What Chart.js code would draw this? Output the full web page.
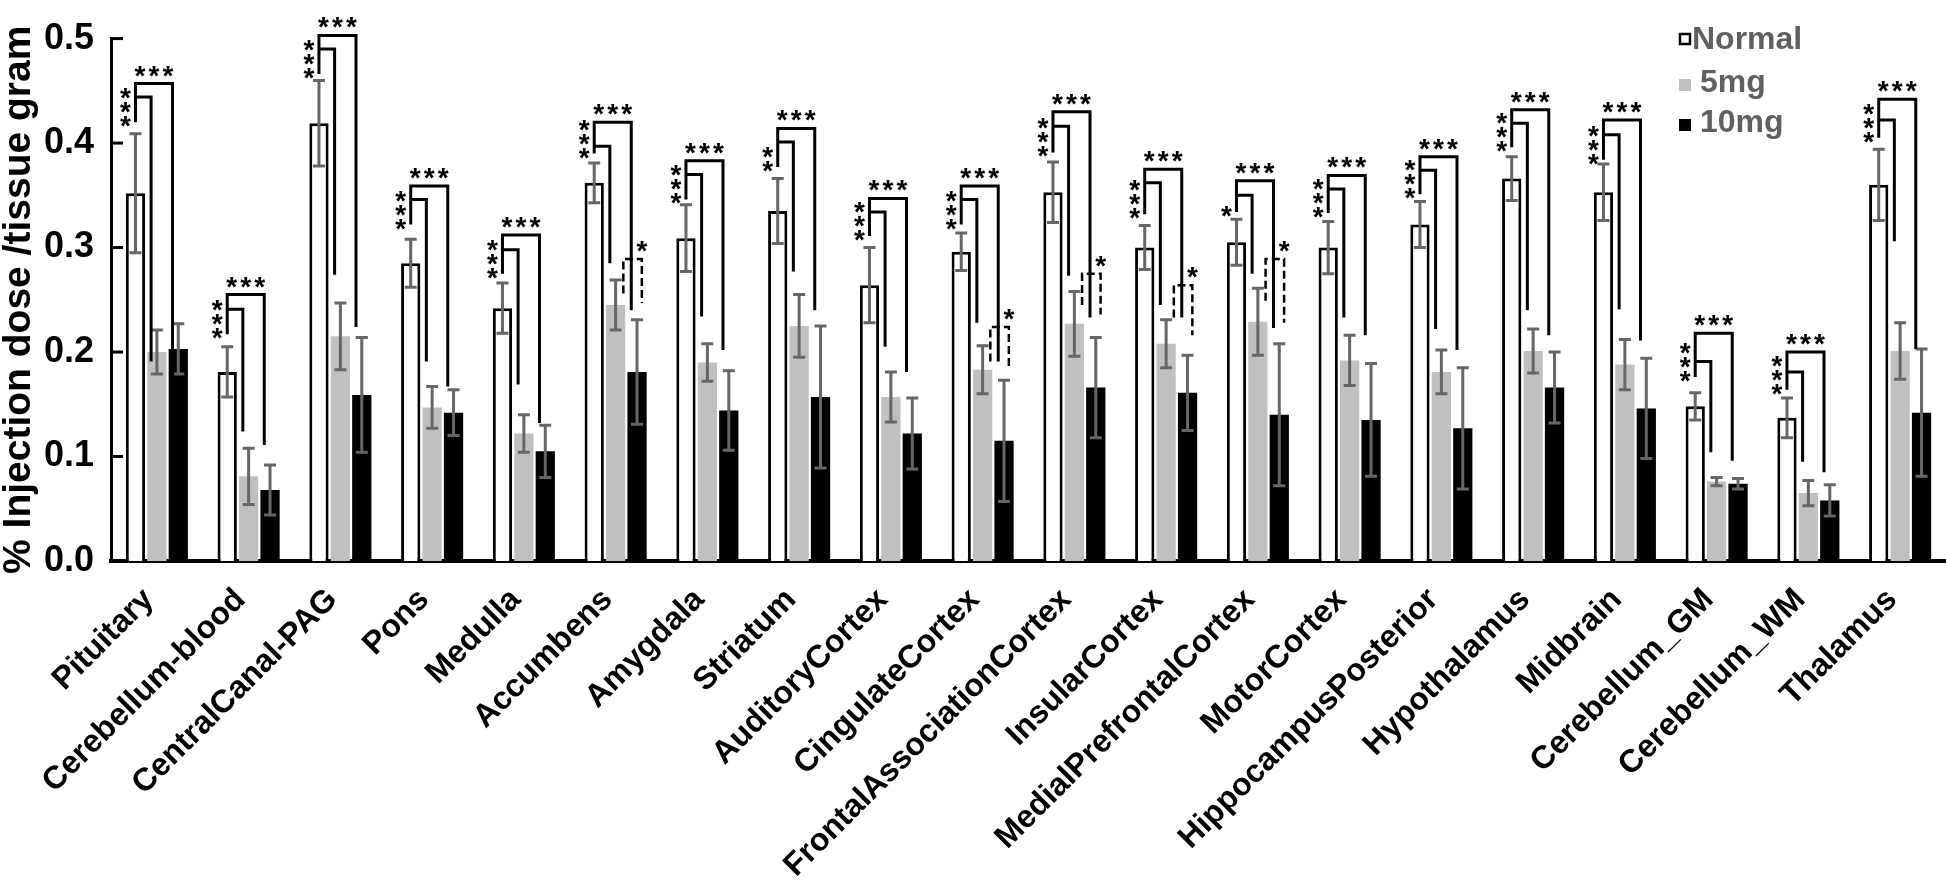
<!DOCTYPE html>
<html lang="en">
<head>
    <meta charset="UTF-8">
    <script src="https://cdn.jsdelivr.net/npm/chart.js"></script>
    <title>Injection dose by region</title>
    <style>
        body { margin: 0; background: #fff; }
    </style>
</head>
<body>
    <canvas id="myChart" width="1946" height="880"></canvas>
    <script>
        const categories = ['Pituitary', 'Cerebellum-blood', 'CentralCanal-PAG', 'Pons', 'Medulla', 'Accumbens',
            'Amygdala', 'Striatum', 'AuditoryCortex', 'CingulateCortex', 'FrontalAssociationCortex', 'InsularCortex',
            'MedialPrefrontalCortex', 'MotorCortex', 'HippocampusPosterior', 'Hypothalamus', 'Midbrain',
            'Cerebellum_GM', 'Cerebellum_WM', 'Thalamus']

        const normal    = [0.352, 0.181, 0.419, 0.285, 0.242, 0.362, 0.309, 0.335, 0.264, 0.296, 0.353, 0.300, 0.305, 0.300, 0.322, 0.366, 0.353, 0.148, 0.137, 0.360]
        const normalErr = [0.057, 0.024, 0.041, 0.023, 0.024, 0.019, 0.032, 0.031, 0.036, 0.018, 0.029, 0.021, 0.022, 0.025, 0.022, 0.021, 0.027, 0.013, 0.019, 0.034]
        const mg5       = [0.200, 0.081, 0.215, 0.147, 0.122, 0.245, 0.190, 0.225, 0.157, 0.183, 0.227, 0.208, 0.229, 0.192, 0.181, 0.201, 0.188, 0.076, 0.065, 0.201]
        const mg5Err    = [0.021, 0.027, 0.032, 0.020, 0.018, 0.024, 0.018, 0.030, 0.024, 0.023, 0.031, 0.023, 0.032, 0.024, 0.021, 0.021, 0.024, 0.004, 0.012, 0.027]
        const mg10      = [0.203, 0.068, 0.159, 0.142, 0.105, 0.181, 0.144, 0.157, 0.122, 0.115, 0.166, 0.161, 0.140, 0.135, 0.127, 0.166, 0.146, 0.074, 0.058, 0.142]
        const mg10Err   = [0.024, 0.024, 0.055, 0.022, 0.025, 0.050, 0.038, 0.068, 0.034, 0.058, 0.048, 0.036, 0.068, 0.054, 0.058, 0.034, 0.048, 0.005, 0.015, 0.061]

        const yTicks = [0.0, 0.1, 0.2, 0.3, 0.4, 0.5]

        // significance marks (Normal vs 5mg, Normal vs 10mg, 5mg vs 10mg)
        const sigNear = ['***', '***', '***', '***', '***', '***', '***', '**', '***', '***', '***', '***', '*', '***', '***', '***', '***', '***', '***', '***']
        const sigFar  = categories.map(() => '***')
        // bracket heights, in axis units
        const bracketFoot  = [0.420, 0.217, 0.466, 0.322, 0.275, 0.390, 0.346, 0.377, 0.311, 0.322, 0.391, 0.332, 0.334, 0.333, 0.351, 0.396, 0.384, 0.176, 0.164, 0.405]
        const bracketInner = [0.444, 0.241, 0.490, 0.346, 0.298, 0.397, 0.370, 0.401, 0.334, 0.346, 0.416, 0.362, 0.350, 0.356, 0.374, 0.419, 0.408, 0.191, 0.181, 0.422]
        const bracketOuter = [0.457, 0.255, 0.503, 0.359, 0.312, 0.420, 0.383, 0.414, 0.347, 0.359, 0.430, 0.375, 0.364, 0.369, 0.387, 0.432, 0.422, 0.218, 0.200, 0.442]
        const innerEnd     = [0.191, 0.124, 0.274, 0.191, 0.169, 0.285, 0.234, 0.277, 0.205, 0.228, 0.273, 0.245, 0.275, 0.233, 0.222, 0.240, 0.241, 0.104, 0.095, 0.306]
        const outerEnd     = [0.170, 0.111, 0.224, 0.167, 0.132, 0.240, 0.202, 0.240, 0.181, 0.191, 0.233, 0.233, 0.223, 0.216, 0.202, 0.216, 0.211, 0.096, 0.085, 0.203]
        const dashTop      = [null, null, null, null, null, 0.289, null, null, null, 0.224, 0.275, 0.264, 0.289, null, null, null, null, null, null, null]
        const dashLeftEnd  = [null, null, null, null, null, 0.256, null, null, null, 0.191, 0.245, 0.233, 0.249, null, null, null, null, null, null, null]
        const dashRightEnd = [null, null, null, null, null, 0.247, null, null, null, 0.183, 0.236, 0.216, 0.228, null, null, null, null, null, null, null]

        const FONT = '"Liberation Sans", Arial, sans-serif'
        Chart.defaults.font.family = FONT

        const errorBars = {
            id: 'errorBars',
            afterDatasetsDraw(chart) {
                const ctx = chart.ctx
                const ys = chart.scales.y
                const errs = [normalErr, mg5Err, mg10Err]
                ctx.save()
                ctx.strokeStyle = '#666666'
                ctx.lineWidth = 3
                errs.forEach((err, di) => {
                    const vals = chart.data.datasets[di].data
                    chart.getDatasetMeta(di).data.forEach((bar, j) => {
                        const top = ys.getPixelForValue(vals[j] + err[j])
                        const bot = ys.getPixelForValue(vals[j] - err[j])
                        ctx.beginPath()
                        ctx.moveTo(bar.x, top); ctx.lineTo(bar.x, bot)
                        ctx.moveTo(bar.x - 6, top); ctx.lineTo(bar.x + 6, top)
                        ctx.moveTo(bar.x - 6, bot); ctx.lineTo(bar.x + 6, bot)
                        ctx.stroke()
                    })
                })
                ctx.restore()
            }
        }

        const significance = {
            id: 'significance',
            afterDatasetsDraw(chart) {
                const ctx = chart.ctx
                const ys = chart.scales.y
                const px = v => ys.getPixelForValue(v)
                const mN = chart.getDatasetMeta(0).data
                const m5 = chart.getDatasetMeta(1).data
                const m10 = chart.getDatasetMeta(2).data
                ctx.save()
                ctx.strokeStyle = '#000'
                ctx.fillStyle = '#000'
                ctx.lineWidth = 3
                ctx.lineJoin = 'miter'
                ctx.font = 'bold 28px ' + FONT
                ctx.textAlign = 'center'
                ctx.textBaseline = 'alphabetic'
                const star = (x, cy) => ctx.fillText('*', x, cy + 15)

                categories.forEach((c, j) => {
                    const a = mN[j], b = m5[j], d = m10[j]
                    const xl = a.x
                    const xi = b.x - b.width * 0.3
                    const xo = d.x - d.width * 0.3

                    ctx.setLineDash([])
                    ctx.beginPath()
                    ctx.moveTo(xl, px(bracketFoot[j]))
                    ctx.lineTo(xl, px(bracketOuter[j]))
                    ctx.lineTo(xo, px(bracketOuter[j]))
                    ctx.lineTo(xo, px(outerEnd[j]))
                    ctx.moveTo(xl, px(bracketInner[j]))
                    ctx.lineTo(xi, px(bracketInner[j]))
                    ctx.lineTo(xi, px(innerEnd[j]))
                    ctx.stroke()

                    // stacked stars beside the shared leg
                    for (let k = 0; k < sigNear[j].length; k++) {
                        star(xl - 10, px(bracketFoot[j]) - 2 - k * 14)
                    }
                    // stars over the long bracket
                    const mid = (xl + xo) / 2
                    const n = sigFar[j].length
                    for (let k = 0; k < n; k++) {
                        star(mid + (k - (n - 1) / 2) * 14, px(bracketOuter[j]) - 14)
                    }

                    if (dashTop[j] !== null) {
                        const xdl = b.x + b.width * 0.4
                        const xdr = d.x + d.width * 0.25
                        ctx.setLineDash([8, 4])
                        ctx.lineWidth = 2.5
                        ctx.beginPath()
                        ctx.moveTo(xdl, px(dashLeftEnd[j]))
                        ctx.lineTo(xdl, px(dashTop[j]))
                        ctx.lineTo(xdr, px(dashTop[j]))
                        ctx.lineTo(xdr, px(dashRightEnd[j]))
                        ctx.stroke()
                        ctx.lineWidth = 3
                        star(xdr, px(dashTop[j]) - 14)
                    }
                })
                ctx.restore()
            },
            afterDraw(chart) {
                const ctx = chart.ctx
                const ys = chart.scales.y
                const left = chart.chartArea.left
                ctx.save()
                // inward tick marks on the value axis
                ctx.strokeStyle = '#000'
                ctx.lineWidth = 3
                yTicks.slice(1).forEach(v => {
                    const y = ys.getPixelForValue(v)
                    ctx.beginPath()
                    ctx.moveTo(left, y)
                    ctx.lineTo(left + 12, y)
                    ctx.stroke()
                })
                // legend
                const rows = [49, 92, 132]
                const textX = [1692, 1700, 1700]
                ctx.font = 'bold 32px ' + FONT
                ctx.textAlign = 'left'
                ctx.textBaseline = 'alphabetic'
                chart.data.datasets.forEach((ds, i) => {
                    const y = rows[i]
                    if (i === 0) {
                        ctx.fillStyle = '#fff'
                        ctx.fillRect(1680, y - 15, 10, 10)
                        ctx.lineWidth = 2.5
                        ctx.strokeRect(1680, y - 15, 10, 10)
                    } else {
                        ctx.fillStyle = ds.backgroundColor
                        ctx.fillRect(1679, y - 13, 12, 12)
                    }
                    ctx.fillStyle = '#606060'
                    ctx.fillText(ds.label, textX[i], y)
                })
                ctx.restore()
            }
        }

        const ctx = document.getElementById('myChart')
        new Chart(ctx, {
            type: 'bar',
            data: {
                labels: categories,
                datasets: [
                    { label: 'Normal', data: normal, backgroundColor: '#ffffff', borderColor: '#000000', borderWidth: 3 },
                    { label: '5mg', data: mg5, backgroundColor: '#c0c0c0', borderWidth: 0 },
                    { label: '10mg', data: mg10, backgroundColor: '#000000', borderWidth: 0 }
                ]
            },
            options: {
                responsive: false,
                animation: false,
                layout: { padding: { top: 24, left: 0, right: 0, bottom: 0 } },
                datasets: { bar: { categoryPercentage: 0.7, barPercentage: 0.9 } },
                plugins: {
                    legend: { display: false },
                    tooltip: { enabled: false }
                },
                scales: {
                    x: {
                        z: 1,
                        grid: { display: false, drawTicks: false },
                        border: { color: '#000', width: 4 },
                        ticks: {
                            autoSkip: false,
                            minRotation: 45,
                            maxRotation: 45,
                            padding: 20,
                            labelOffset: -8,
                            color: '#000',
                            font: { size: 32, weight: 'bold' }
                        },
                        afterFit(scale) {
                            scale.height = 319
                            scale.paddingLeft = 0
                            scale.paddingRight = 0
                        }
                    },
                    y: {
                        min: 0,
                        max: 0.5,
                        grid: { display: false, drawTicks: false },
                        border: { color: '#000', width: 3 },
                        ticks: {
                            stepSize: 0.1,
                            padding: 17,
                            color: '#000',
                            font: { size: 36, weight: 'bold' },
                            callback: (value) => value.toFixed(1)
                        },
                        title: {
                            display: true,
                            text: '% Injection dose /tissue gram',
                            color: '#000',
                            padding: 0,
                            font: { size: 39, weight: 'bold', lineHeight: 1 }
                        },
                        afterFit(scale) {
                            scale.width = 111
                        }
                    }
                }
            },
            plugins: [errorBars, significance]
        })
    </script>
</body>
</html>
